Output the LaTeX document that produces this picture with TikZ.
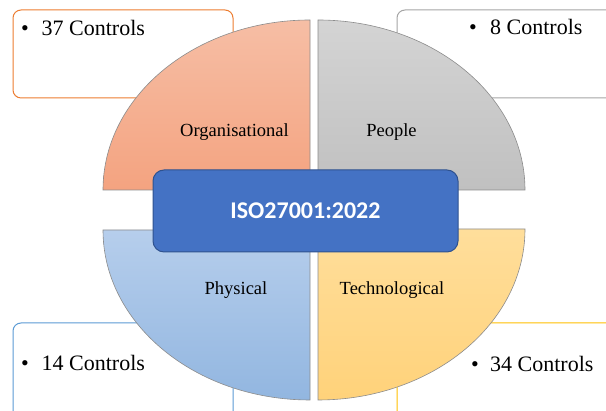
\documentclass[tikz,border=0pt]{standalone}
\usepackage{fontspec}
\setmainfont{Liberation Serif}
\newfontfamily\calibri{Carlito}
\definecolor{orgT}{RGB}{246,190,165}
\definecolor{orgB}{RGB}{244,163,128}
\definecolor{pplT}{RGB}{212,212,212}
\definecolor{pplB}{RGB}{192,192,192}
\definecolor{phyT}{RGB}{182,206,236}
\definecolor{phyB}{RGB}{146,182,224}
\definecolor{tecT}{RGB}{255,222,155}
\definecolor{tecB}{RGB}{255,210,122}
\definecolor{accOrange}{RGB}{237,125,49}
\definecolor{accGray}{RGB}{165,165,165}
\definecolor{accBlue}{RGB}{91,155,213}
\definecolor{accYellow}{RGB}{255,192,0}
\definecolor{isoFill}{RGB}{68,114,196}
\definecolor{isoLine}{RGB}{47,82,143}
\tikzset{
  infobox/.style={rounded corners=8pt, line width=1pt, fill=white},
  quad/.style={draw=black!45, line width=0.6pt},
  qlabel/.style={anchor=base, inner sep=0pt, font=\fontsize{18.5}{22}\selectfont},
  ctext/.style={anchor=base west, inner sep=0pt, font=\fontsize{22}{26}\selectfont},
  cbullet/.style={anchor=base, inner sep=0pt, font=\fontsize{22}{26}\selectfont},
}
\begin{document}
\begin{tikzpicture}[x=1pt,y=1pt]
\useasboundingbox (0,0) rectangle (606,411);
\clip (0,0) rectangle (606,411);
\fill[white] (0,0) rectangle (606,411);
% info boxes
\draw[infobox, draw=accOrange] (13,313) rectangle (233,401);
\draw[infobox, draw=accGray] (397,313) rectangle (625,401);
\draw[infobox, draw=accBlue] (13,-15) rectangle (233,88);
\draw[infobox, draw=accYellow] (397,-15) rectangle (625,88);
% quadrants
\draw[quad, top color=orgT, bottom color=orgB] (310,221) -- (103,221) arc[start angle=180, end angle=90, x radius=207, y radius=170] -- cycle;
\draw[quad, top color=pplT, bottom color=pplB] (318,221) -- (318,391) arc[start angle=90, end angle=0, x radius=207, y radius=170] -- cycle;
\draw[quad, top color=phyT, bottom color=phyB] (310,181) -- (103,181) arc[start angle=180, end angle=270, x radius=207, y radius=170] -- cycle;
\draw[quad, top color=tecT, bottom color=tecB] (318,182) -- (525,182) arc[start angle=0, end angle=-90, x radius=207, y radius=171] -- cycle;
% labels
\node[qlabel] (org) at (234.5,274) {Organisational};
\node[qlabel] (ppl) at (391.5,274) {People};
\node[qlabel] (phy) at (236,116) {Physical};
\node[qlabel] (tec) at (392,116) {Technological};
% control texts
\node[cbullet] (b1) at (25,375) {\textbullet};
\node[ctext] (c1) at (41.5,375) {37 Controls};
\node[cbullet] (b2) at (473,376) {\textbullet};
\node[ctext] (c2) at (490,376) {8 Controls};
\node[cbullet] (b3) at (25,40) {\textbullet};
\node[ctext] (c3) at (41.5,40) {14 Controls};
\node[cbullet] (b4) at (475,39) {\textbullet};
\node[ctext] (c4) at (490,39) {34 Controls};
% centre box
\node[draw=isoLine, line width=1pt, fill=isoFill, rounded corners=11pt,
      minimum width=305pt, minimum height=82pt, inner sep=0pt,
      text=white, font=\calibri\bfseries\fontsize{24}{28}\selectfont] (iso) at (305.5,200) {ISO27001:2022};
\end{tikzpicture}
\end{document}
